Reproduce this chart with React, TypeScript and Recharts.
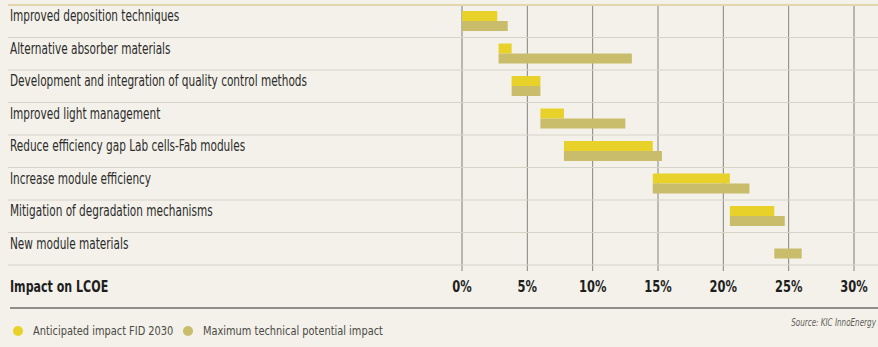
import { Bar, BarChart, CartesianGrid, Legend, XAxis, YAxis } from "recharts";

const categories = [
  "Improved deposition techniques",
  "Alternative absorber materials",
  "Development and integration of quality control methods",
  "Improved light management",
  "Reduce efficiency gap Lab cells-Fab modules",
  "Increase module efficiency",
  "Mitigation of degradation mechanisms",
  "New module materials",
];

// impact on LCOE, in %
const anticipatedFrom = [0, 2.8, 3.8, 6.0, 7.8, 14.6, 20.5, null];
const anticipatedTo = [2.7, 3.8, 6.0, 7.8, 14.6, 20.5, 23.9, null];
const maximumFrom = [0, 2.8, 3.8, 6.0, 7.8, 14.6, 20.5, 23.9];
const maximumTo = [3.5, 13.0, 6.0, 12.5, 15.3, 22.0, 24.7, 26.0];

const majorTicks = [0, 5, 10, 15, 20, 25, 30];
const minorTicks = Array.from({ length: 31 }, (_, i) => i);

const seriesNames = ["Anticipated impact FID 2030", "Maximum technical potential impact"];

const W = 878;
const H = 347;
const FONT = '"Liberation Sans Narrow", "DejaVu Sans Condensed", sans-serif';
const NARROW = 0.78; // squeeze the condensed face towards the original's width
const YELLOW = "#e8d22a";
const OLIVE = "#c9bd6c";
const BG = "#f3f1e9";

const data = categories.map((name, i) => ({
  name,
  anticipated:
    anticipatedFrom[i] == null ? null : [anticipatedFrom[i], anticipatedTo[i]],
  maximum: [maximumFrom[i], maximumTo[i]],
}));

// label plus the row separators, which run the full width under the labels too
function CategoryTick({ y, payload, index }: any) {
  const half = payload.offset ?? 0;
  const last = index === categories.length - 1;
  return (
    <g>
      <line
        x1={8}
        x2={W}
        y1={y - half}
        y2={y - half}
        stroke={index === 0 ? "#e2d6ac" : "#d6d3c9"}
        strokeWidth={index === 0 ? 2 : 1}
      />
      {last && <line x1={8} x2={W} y1={y + half} y2={y + half} stroke="#d6d3c9" />}
      <text
        transform={`translate(10, ${y}) scale(${NARROW}, 1)`}
        fontSize={15}
        fill="#2b2b2b"
        fontFamily={FONT}
      >
        {payload.value}
      </text>
    </g>
  );
}

function PercentTick({ x, y, payload }: any) {
  return (
    <text
      transform={`translate(${x}, ${y}) scale(0.85, 1)`}
      textAnchor="middle"
      dy="0.71em"
      fontSize={15}
      fontWeight={700}
      fill="#1e1e1e"
      fontFamily={FONT}
    >
      {payload.value}%
    </text>
  );
}

function LegendContent() {
  const colors = [YELLOW, OLIVE];
  const widths = [140, 180];
  return (
    <div style={{ display: "flex", alignItems: "center", fontFamily: FONT, fontSize: 13, color: "#4a4a46" }}>
      {seriesNames.map((n, i) => (
        <span key={n} style={{ display: "flex", alignItems: "center", marginRight: 10 }}>
          <span
            style={{
              width: 10,
              height: 10,
              borderRadius: 5,
              background: colors[i],
              marginRight: 10,
              display: "inline-block",
            }}
          />
          <span style={{ display: "inline-block", width: widths[i], whiteSpace: "nowrap" }}>
            <span style={{ display: "inline-block", transform: "scaleX(0.84)", transformOrigin: "left" }}>
              {n}
            </span>
          </span>
        </span>
      ))}
    </div>
  );
}

export default function App() {
  return (
    <div
      style={{
        position: "absolute",
        left: 0,
        top: 0,
        width: W,
        height: H,
        background: BG,
        overflow: "hidden",
        fontFamily: FONT,
      }}
    >
      <BarChart
        width={W}
        height={H}
        data={data}
        layout="vertical"
        barSize={10}
        barGap={0}
        margin={{ top: 5, right: 24, bottom: 52, left: 0 }}
      >
        <CartesianGrid xAxisId="minor" horizontal={false} stroke="#e4e1d5" />
        <CartesianGrid horizontal={false} stroke="#85857f" />
        <XAxis
          type="number"
          domain={[0, 30]}
          ticks={majorTicks}
          axisLine={false}
          tickLine={{ stroke: "#85857f" }}
          tickSize={6}
          tickMargin={10}
          height={30}
          tick={<PercentTick />}
        />
        <XAxis xAxisId="minor" type="number" domain={[0, 30]} ticks={minorTicks} hide />
        <YAxis
          type="category"
          dataKey="name"
          width={462}
          axisLine={false}
          tickLine={false}
          tick={<CategoryTick />}
          interval={0}
        />
        <Legend
          verticalAlign="middle"
          align="center"
          content={<LegendContent />}
          wrapperStyle={{ left: 13, top: 323, width: "auto" }}
        />
        <Bar dataKey="anticipated" name={seriesNames[0]} fill={YELLOW} isAnimationActive={false} />
        <Bar dataKey="maximum" name={seriesNames[1]} fill={OLIVE} isAnimationActive={false} />
      </BarChart>
      <div
        style={{
          position: "absolute",
          left: 10,
          top: 278,
          fontSize: 15,
          fontWeight: 700,
          color: "#1e1e1e",
          transform: "scaleX(0.82)",
          transformOrigin: "left",
          whiteSpace: "nowrap",
        }}
      >
        Impact on LCOE
      </div>
      <div style={{ position: "absolute", left: 10, right: 0, top: 307, height: 2, background: "#8f8f8a" }} />
      <div
        style={{
          position: "absolute",
          right: 2,
          top: 317,
          fontSize: 10,
          fontStyle: "italic",
          color: "#5e5e5a",
          whiteSpace: "nowrap",
          transform: "scaleX(0.8)",
          transformOrigin: "right",
        }}
      >
        Source: KIC InnoEnergy
      </div>
    </div>
  );
}
